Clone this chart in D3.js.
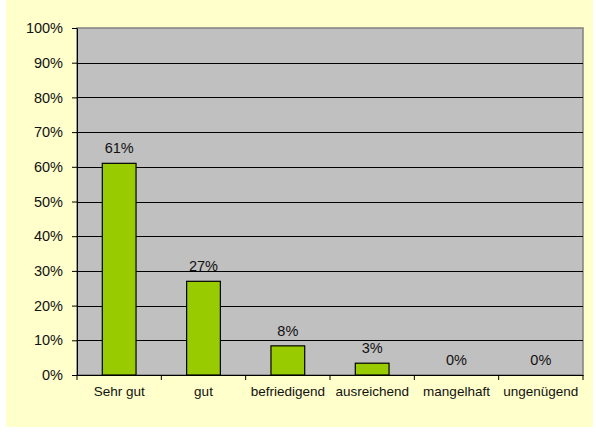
<!DOCTYPE html>
<html lang="de">
<head>
<meta charset="UTF-8">
<title>Bewertung</title>
<style>
  body { margin: 0; background: #fff; }
  text { font-family: "Liberation Sans", Arial, sans-serif; }
</style>
</head>
<body>
<svg id="chart" width="596" height="434"></svg>
<script src="https://d3js.org/d3.v7.min.js"></script>
<script>
const categories = ["Sehr gut", "gut", "befriedigend", "ausreichend", "mangelhaft", "ungenügend"];
const values = [61, 27, 8.4, 3.4, 0, 0];
const yTicks = [0, 10, 20, 30, 40, 50, 60, 70, 80, 90, 100];

const svg = d3.select("#chart");
const margin = { left: 77, top: 28, right: 13, bottom: 59 };
const width = 596, height = 434;

// yellow chart area
svg.append("rect")
  .attr("x", 6).attr("y", 0)
  .attr("width", 587).attr("height", 427)
  .attr("fill", "#ffffcc");

const x = d3.scaleBand()
  .domain(categories)
  .range([margin.left, width - margin.right])
  .paddingInner(0.6).paddingOuter(0.3);

const xOuter = d3.scaleBand()
  .domain(categories)
  .range([margin.left, width - margin.right]);

const y = d3.scaleLinear()
  .domain([0, 100])
  .range([height - margin.bottom, margin.top]);

// plot area
svg.append("rect")
  .attr("x", margin.left).attr("y", margin.top)
  .attr("width", width - margin.right - margin.left)
  .attr("height", y(0) - margin.top)
  .attr("fill", "#c0c0c0")
  .attr("stroke", "#808080")
  .attr("stroke-width", 1.5);

// gridlines
svg.append("g")
  .selectAll("line")
  .data(yTicks.filter(d => d > 0 && d < 100))
  .join("line")
  .attr("x1", margin.left).attr("x2", width - margin.right)
  .attr("y1", d => Math.round(y(d)) + 0.5).attr("y2", d => Math.round(y(d)) + 0.5)
  .attr("stroke", "#000");

// bars
svg.append("g")
  .selectAll("rect")
  .data(values)
  .join("rect")
  .attr("x", (d, i) => x(categories[i]))
  .attr("y", d => y(d))
  .attr("width", x.bandwidth())
  .attr("height", d => y(0) - y(d))
  .attr("fill", "#99cc00")
  .attr("stroke", "#000")
  .attr("stroke-width", 1.2)
  .attr("display", d => d > 0 ? null : "none");

// value labels
svg.append("g")
  .selectAll("text")
  .data(values)
  .join("text")
  .attr("x", (d, i) => x(categories[i]) + x.bandwidth() / 2)
  .attr("y", d => y(d) - 15)
  .attr("dy", "0.35em")
  .attr("text-anchor", "middle")
  .attr("font-size", "14.5px")
  .attr("fill", "#111")
  .text(d => Math.round(d) + "%");

// y axis
const yAxis = svg.append("g")
  .attr("transform", `translate(${margin.left},0)`)
  .call(d3.axisLeft(y).tickValues(yTicks).tickFormat(d => d + "%").tickSize(5).tickSizeOuter(0));
yAxis.select(".domain").attr("stroke", "#000");
yAxis.selectAll(".tick line").attr("stroke", "#000");
yAxis.selectAll("text").attr("font-size", "14.5px").attr("font-family", "Liberation Sans, Arial, sans-serif").attr("fill", "#111").attr("x", -14);

// x axis
const xAxis = svg.append("g")
  .attr("transform", `translate(0,${y(0)})`)
  .call(d3.axisBottom(xOuter).tickSize(0).tickSizeOuter(0));
xAxis.select(".domain").attr("stroke", "#000");
xAxis.selectAll("text").attr("font-size", "13.5px").attr("font-family", "Liberation Sans, Arial, sans-serif").attr("fill", "#111").attr("dy", "0.71em").attr("y", 11);

// category boundary ticks
svg.append("g")
  .selectAll("line")
  .data(categories.concat(["end"]))
  .join("line")
  .attr("x1", (d, i) => i < categories.length ? xOuter(d) : xOuter(categories[i - 1]) + xOuter.bandwidth())
  .attr("x2", (d, i) => i < categories.length ? xOuter(d) : xOuter(categories[i - 1]) + xOuter.bandwidth())
  .attr("y1", y(0)).attr("y2", y(0) + 5)
  .attr("stroke", "#000");
</script>
</body>
</html>
